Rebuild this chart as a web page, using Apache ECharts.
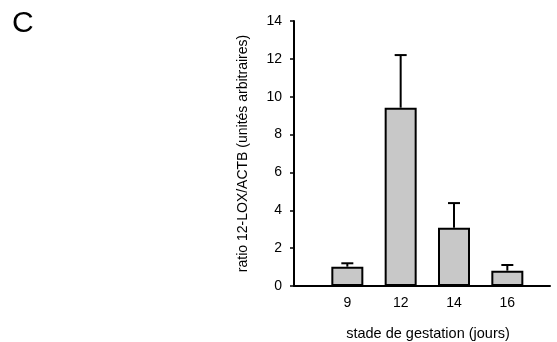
<!DOCTYPE html>
<html><head><meta charset="utf-8">
<script src="https://cdn.jsdelivr.net/npm/echarts@6/dist/echarts.min.js"></script>
<style>html,body{margin:0;padding:0;background:#fff}#c{width:557px;height:342px}</style>
</head><body><div id="c"></div>
<script>
const categories = ['9', '12', '14', '16'];
const means = [1.02, 9.42, 3.08, 0.81];
const errUpper = [1.2, 12.2, 4.38, 1.11];
const yTicks = [0, 2, 4, 6, 8, 10, 12, 14];

const positions = categories.map((c, i) => i + 1);
const barData = positions.map((p, i) => [p, means[i]]);
const errData = positions.map((p, i) => [p, means[i], errUpper[i]]);

const chart = echarts.init(document.getElementById('c'));
const font = 'Liberation Sans, Arial, sans-serif';
chart.setOption({
  animation: false,
  backgroundColor: '#fff',
  grid: { left: 294, right: 7, top: 21, bottom: 56, containLabel: false, outerBoundsMode: 'none' },
  graphic: [{ type: 'text', left: 12, top: 9, style: { text: 'C', fontSize: 30, fontFamily: font, fill: '#000' } }],
  xAxis: {
    type: 'value', min: 0, max: 4.8, interval: 1,
    splitLine: { show: false },
    axisLine: { lineStyle: { color: '#000', width: 2 } },
    axisTick: { show: false },
    axisLabel: {
      color: '#000', fontSize: 14, fontFamily: font, margin: 10, showMaxLabel: false,
      formatter: v => (Number.isInteger(v) && v >= 1 && v <= categories.length) ? categories[v - 1] : ''
    },
    name: 'stade de gestation (jours)', nameLocation: 'middle', nameGap: 40,
    nameTextStyle: { color: '#000', fontSize: 14.5, fontFamily: font, padding: [0, 0, 0, 12] }
  },
  yAxis: {
    type: 'value', min: yTicks[0], max: yTicks[yTicks.length - 1], interval: 2,
    splitLine: { show: false },
    axisLine: { show: true, lineStyle: { color: '#000', width: 2 } },
    axisTick: { show: true, length: 4, lineStyle: { color: '#000', width: 1.5 } },
    axisLabel: { color: '#000', fontSize: 14, fontFamily: font, margin: 12 },
    name: 'ratio 12-LOX/ACTB (unités arbitraires)', nameLocation: 'middle', nameGap: 44,
    nameTextStyle: { color: '#000', fontSize: 14, fontFamily: font }
  },
  series: [
    {
      type: 'bar', data: barData, barWidth: 32,
      itemStyle: { color: '#c8c8c8', borderColor: '#000', borderWidth: 2 }
    },
    {
      type: 'custom', data: errData, z: 1,
      renderItem: (params, api) => {
        const x = api.value(0);
        const top = api.coord([x, api.value(2)]);
        const base = api.coord([x, api.value(1)]);
        const cap = 6;
        return {
          type: 'group', children: [
            { type: 'line', shape: { x1: top[0], y1: top[1], x2: base[0], y2: base[1] }, style: { stroke: '#000', lineWidth: 2 } },
            { type: 'line', shape: { x1: top[0] - cap, y1: top[1], x2: top[0] + cap, y2: top[1] }, style: { stroke: '#000', lineWidth: 2 } }
          ]
        };
      }
    }
  ]
});
</script></body></html>
